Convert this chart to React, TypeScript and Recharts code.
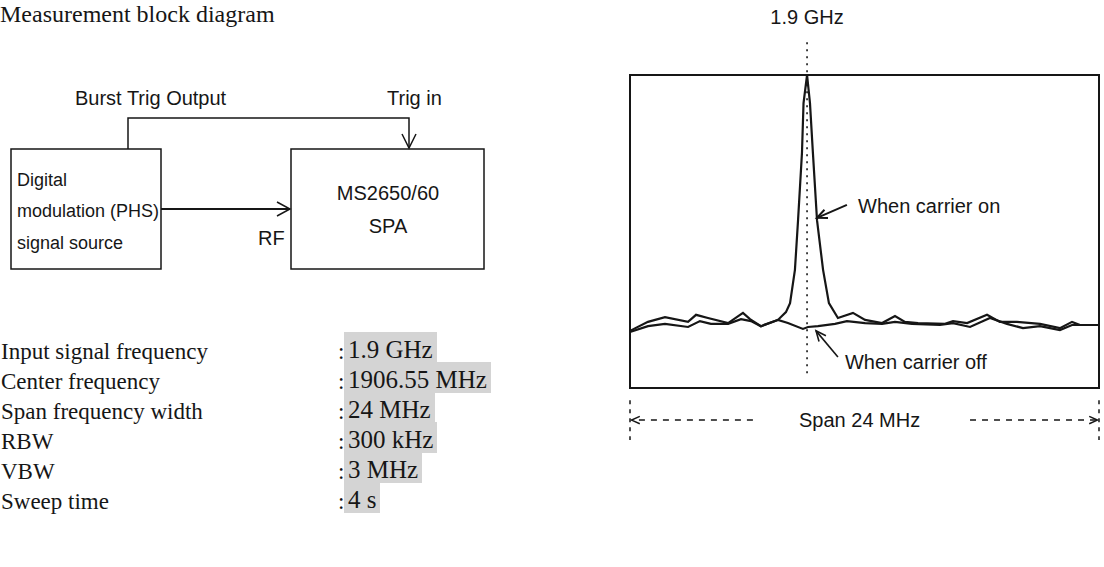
import React from 'react'
import {
  LineChart,
  Line,
  XAxis,
  YAxis,
  ReferenceLine,
  ReferenceArea,
  ReferenceDot,
} from 'recharts'

// spectrum traces, frequency offset within the 24 MHz span (MHz) vs level (dB)
const onFreq = [
  0, 0.92, 1.79, 2.97, 3.38, 3.99, 5.02, 5.78, 6.14, 6.7, 7.57, 7.98, 8.19, 8.44, 8.6, 8.8, 8.88,
  9.06, 9.21, 9.36, 9.57, 9.88, 10.18, 10.64, 11.41, 12.03, 12.9, 13.56, 14.07, 14.74, 16.12, 16.53,
  17.25, 18.27, 18.93, 19.8, 20.98, 22.0, 22.62, 23.03, 24.0,
]
const onLevel = [
  -65.4, -63.1, -61.9, -63.1, -61.3, -62.1, -63.4, -60.8, -62.4, -64.2, -62.6, -60.6, -58.3, -49.8,
  -37.1, -19.9, -7.2, 0, -7.2, -19.9, -37.1, -49.8, -58.3, -62.1, -60.8, -62.6, -63.4, -61.6, -63.1,
  -63.4, -63.6, -62.9, -63.4, -61.3, -63.1, -63.1, -63.6, -64.7, -63.1, -63.9, -63.9,
]
const offFreq = [
  0, 0.92, 1.79, 2.97, 3.58, 4.14, 5.02, 5.68, 6.19, 6.7, 7.57, 8.08, 8.85, 9.11, 9.62, 10.49, 11.1,
  12.03, 12.9, 13.56, 14.43, 15.86, 16.53, 17.4, 18.42, 19.29, 20.11, 20.98, 22.0, 22.62, 24.0,
]
const offLevel = [
  -65.7, -64.2, -63.6, -64.4, -62.9, -63.6, -63.6, -62.4, -62.9, -64.2, -62.6, -63.4, -64.9, -64.4,
  -64.2, -63.6, -62.9, -63.4, -63.6, -63.1, -63.6, -63.9, -63.4, -64.4, -62.1, -63.6, -64.7, -64.2,
  -65.2, -63.9, -63.9,
]

const markerFreq = 9.06
const markerLabel = '1.9 GHz'
const spanLabel = 'Span 24 MHz'

const paramLabels = [
  'Input signal frequency',
  'Center frequency',
  'Span frequency width',
  'RBW',
  'VBW',
  'Sweep time',
]
const paramValues = ['1.9 GHz', '1906.55 MHz', '24 MHz', '300 kHz', '3 MHz', '4 s']

const onData = onFreq.map((f, i) => ({ f, db: onLevel[i] }))
const offData = offFreq.map((f, i) => ({ f, db: offLevel[i] }))

const INK = '#161616'
const SANS = '"Liberation Sans", Arial, sans-serif'
const SERIF = '"Liberation Serif", "Times New Roman", serif'

function Arrow(props: any) {
  const { x1, y1, x2, y2, dash, head = 10, width = 1.6 } = props
  const a = Math.atan2(y2 - y1, x2 - x1)
  const s = 0.42
  const ax = x2 - head * Math.cos(a - s)
  const ay = y2 - head * Math.sin(a - s)
  const bx = x2 - head * Math.cos(a + s)
  const by = y2 - head * Math.sin(a + s)
  return (
    <g>
      <line x1={x1} y1={y1} x2={x2} y2={y2} stroke={INK} strokeWidth={width} strokeDasharray={dash} />
      <polyline points={`${ax},${ay} ${x2},${y2} ${bx},${by}`} fill="none" stroke={INK} strokeWidth={width} />
    </g>
  )
}

function label(text: string, anchor: 'start' | 'middle' = 'start') {
  return (p: any) => (
    <text x={p.cx} y={p.cy} fill={INK} fontSize={20} fontFamily={SANS} textAnchor={anchor}>
      {text}
    </text>
  )
}

function Spectrum() {
  return (
    <LineChart
      width={504}
      height={470}
      margin={{ top: 75, right: 5, bottom: 82, left: 30 }}
      style={{ overflow: 'visible' }}
    >
      <XAxis type="number" dataKey="f" domain={[0, 24]} hide />
      <YAxis type="number" domain={[-80, 0]} hide allowDataOverflow />
      <ReferenceArea x1={0} x2={24} y1={-80} y2={0} fill="none" stroke={INK} strokeWidth={2} ifOverflow="visible" />
      <ReferenceLine
        segment={[{ x: markerFreq, y: 8.4 }, { x: markerFreq, y: -77.4 }]}
        stroke={INK}
        strokeWidth={1.6}
        strokeDasharray="2 5"
        ifOverflow="visible"
      />
      <Line data={offData} dataKey="db" type="linear" dot={false} stroke={INK} strokeWidth={2.2} isAnimationActive={false} />
      <Line data={onData} dataKey="db" type="linear" dot={false} stroke={INK} strokeWidth={2.2} isAnimationActive={false} />

      <ReferenceDot x={markerFreq} y={13} r={0} ifOverflow="visible" shape={label(markerLabel, 'middle')} />
      <ReferenceDot x={11.67} y={-35.3} r={0} ifOverflow="visible" shape={label('When carrier on')} />
      <ReferenceDot x={11.0} y={-75.1} r={0} ifOverflow="visible" shape={label('When carrier off')} />
      <ReferenceLine
        segment={[{ x: 11.1, y: -33.2 }, { x: 9.57, y: -36.5 }]}
        ifOverflow="visible"
        shape={(p: any) => <Arrow {...p} head={11} width={2} />}
      />
      <ReferenceLine
        segment={[{ x: 10.64, y: -72.1 }, { x: 9.52, y: -65.4 }]}
        ifOverflow="visible"
        shape={(p: any) => <Arrow {...p} head={11} width={1.6} />}
      />

      {/* span marker row under the screen */}
      <ReferenceLine segment={[{ x: 0, y: -83.1 }, { x: 0, y: -93.3 }]} stroke={INK} strokeWidth={1.5} strokeDasharray="4 5" ifOverflow="visible" />
      <ReferenceLine segment={[{ x: 24, y: -83.1 }, { x: 24, y: -93.3 }]} stroke={INK} strokeWidth={1.5} strokeDasharray="4 5" ifOverflow="visible" />
      <ReferenceLine
        segment={[{ x: 6.29, y: -88.2 }, { x: 0.08, y: -88.2 }]}
        ifOverflow="visible"
        shape={(p: any) => <Arrow {...p} dash="6 6" head={9} width={1.5} />}
      />
      <ReferenceLine
        segment={[{ x: 17.4, y: -88.2 }, { x: 23.92, y: -88.2 }]}
        ifOverflow="visible"
        shape={(p: any) => <Arrow {...p} dash="6 6" head={9} width={1.5} />}
      />
      <ReferenceDot x={11.75} y={-90.0} r={0} ifOverflow="visible" shape={label(spanLabel, 'middle')} />
    </LineChart>
  )
}

function BlockDiagram() {
  const t = { fill: INK, fontFamily: SANS }
  return (
    <svg width={520} height={300} style={{ position: 'absolute', left: 0, top: 0 }}>
      <rect x={11} y={149} width={150} height={120} fill="none" stroke={INK} strokeWidth={1.5} />
      <rect x={291} y={149} width={193} height={120} fill="none" stroke={INK} strokeWidth={1.5} />
      <polyline points="128,149 128,118 409,118 409,148" fill="none" stroke={INK} strokeWidth={1.5} />
      <polyline points="402,134 409,148 416,134" fill="none" stroke={INK} strokeWidth={1.5} />
      <line x1={161} y1={209} x2={290} y2={209} stroke={INK} strokeWidth={2} />
      <polyline points="277,202 290,209 277,216" fill="none" stroke={INK} strokeWidth={1.5} />
      <text x={75} y={105} fontSize={20} {...t}>Burst Trig Output</text>
      <text x={387} y={105} fontSize={20} {...t}>Trig in</text>
      <text x={17} y={186} fontSize={18} {...t}>Digital</text>
      <text x={17} y={217} fontSize={18} {...t}>modulation (PHS)</text>
      <text x={17} y={249} fontSize={18} {...t}>signal source</text>
      <text x={388} y={200} fontSize={20} textAnchor="middle" {...t}>MS2650/60</text>
      <text x={388} y={233} fontSize={20} textAnchor="middle" {...t}>SPA</text>
      <text x={258} y={245} fontSize={20} {...t}>RF</text>
    </svg>
  )
}

export default function App() {
  return (
    <div
      style={{
        position: 'absolute',
        left: 0,
        top: 0,
        width: 1104,
        height: 567,
        background: '#fff',
        overflow: 'hidden',
        color: INK,
      }}
    >
      <div style={{ position: 'absolute', left: 0, top: 0, fontFamily: SERIF, fontSize: 24, lineHeight: '28px', whiteSpace: 'nowrap' }}>
        Measurement block diagram
      </div>
      <BlockDiagram />
      {paramLabels.map((name, i) => {
        const base = 359 + i * 30
        return (
          <React.Fragment key={name}>
            <div style={{ position: 'absolute', left: 1, top: base - 22, fontFamily: SERIF, fontSize: 23, lineHeight: '30px', whiteSpace: 'nowrap' }}>
              {name}
            </div>
            <div style={{ position: 'absolute', left: 338, top: base - 22, fontFamily: SERIF, fontSize: 23, lineHeight: '30px' }}>:</div>
            <div
              style={{
                position: 'absolute',
                left: 344,
                top: base - 27,
                height: 31,
                padding: '0 4px',
                background: '#d4d4d4',
                fontFamily: SERIF,
                fontSize: 25,
                lineHeight: '36px',
                whiteSpace: 'nowrap',
              }}
            >
              {paramValues[i]}
            </div>
          </React.Fragment>
        )
      })}
      <div style={{ position: 'absolute', left: 600, top: 0 }}>
        <Spectrum />
      </div>
    </div>
  )
}
